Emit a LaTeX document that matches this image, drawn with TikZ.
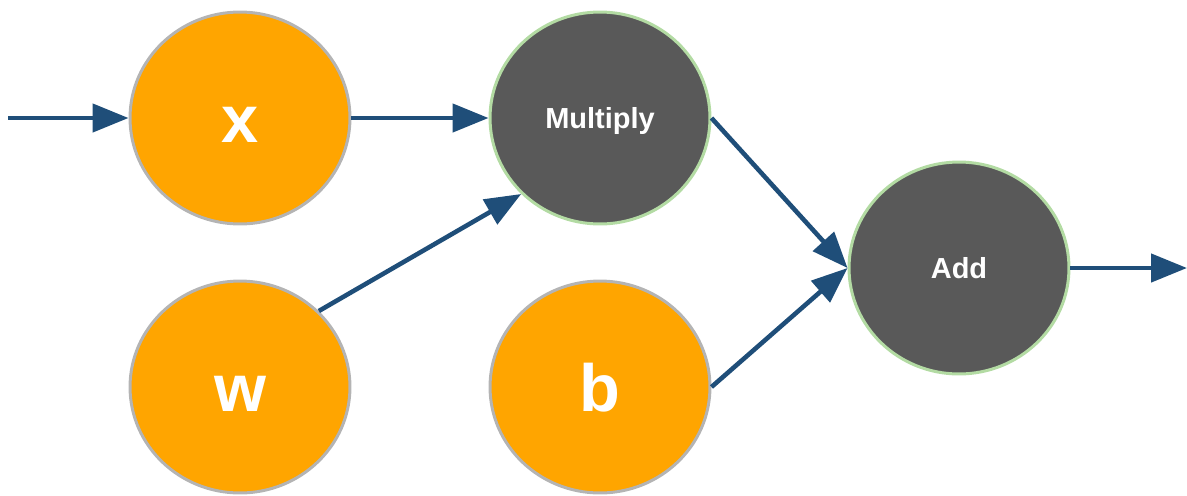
\documentclass[tikz,border=0pt]{standalone}
\usepackage{fontspec}
\setmainfont{Liberation Sans}
\usetikzlibrary{arrows.meta,shapes.geometric}
\definecolor{leaforange}{HTML}{FFA500}
\definecolor{leafrim}{HTML}{B4B4B4}
\definecolor{opgray}{HTML}{595959}
\definecolor{oprim}{HTML}{B3DBA3}
\definecolor{wireblue}{HTML}{1F4E79}
\begin{document}
\begin{tikzpicture}[
	x=0.02cm,
	y=0.02cm,
	leaf/.style={ellipse, draw=leafrim, fill=leaforange, line width=1.7pt, minimum width=4.4cm, minimum height=4.24cm, inner sep=0pt, text height=27.8pt, text depth=0pt, text=white, font=\fontsize{38}{40}\selectfont\bfseries},
	op/.style={ellipse, draw=oprim, fill=opgray, line width=1.7pt, minimum width=4.4cm, minimum height=4.24cm, inner sep=0pt, text depth=0pt, text=white, font=\fontsize{16.5}{18}\selectfont\bfseries},
	wire/.style={draw=wireblue, line width=2.6pt, -{Triangle[length=0.72cm, width=0.56cm]}}
	]
	\useasboundingbox (0,0) rectangle (1187,-495);

	\node[leaf] (x) at (240,-118) {x};
	\node[leaf] (w) at (240,-387) {w};
	\node[op] (mul) at (600,-118) {Multiply};
	\node[leaf] (b) at (600,-387) {b};
	\node[op] (add) at (959,-268) {Add};

	\coordinate (in) at (8,-118);
	\coordinate (out) at (1187,-268);

	\draw[wire] (in) -- (x.west);
	\draw[wire] (x.east) -- (mul.west);
	\draw[wire] (w.north east) -- (mul.south west);
	\draw[wire] (mul.east) -- (add.west);
	\draw[wire] (b.east) -- (add.west);
	\draw[wire] (add.east) -- (out);
\end{tikzpicture}
\end{document}
